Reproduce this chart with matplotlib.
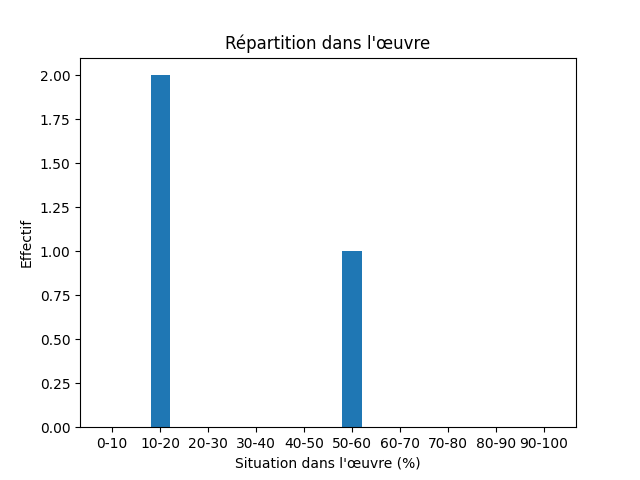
import matplotlib
matplotlib.use("Agg")
import matplotlib.pyplot as plt

categories = ["0-10", "10-20", "20-30", "30-40", "40-50", "50-60", "60-70", "70-80", "80-90", "90-100"]
counts = [0, 2, 0, 0, 0, 1, 0, 0, 0, 0]

fig, ax = plt.subplots(figsize=(6.4, 4.8), dpi=100)
ax.bar(categories, counts, width=0.4, color="#1f77b4")
ax.set_title("Répartition dans l'œuvre")
ax.set_xlabel("Situation dans l'œuvre (%)")
ax.set_ylabel("Effectif")
ax.yaxis.set_major_formatter(matplotlib.ticker.FormatStrFormatter("%.2f"))
fig.savefig("out.png", dpi=100)
